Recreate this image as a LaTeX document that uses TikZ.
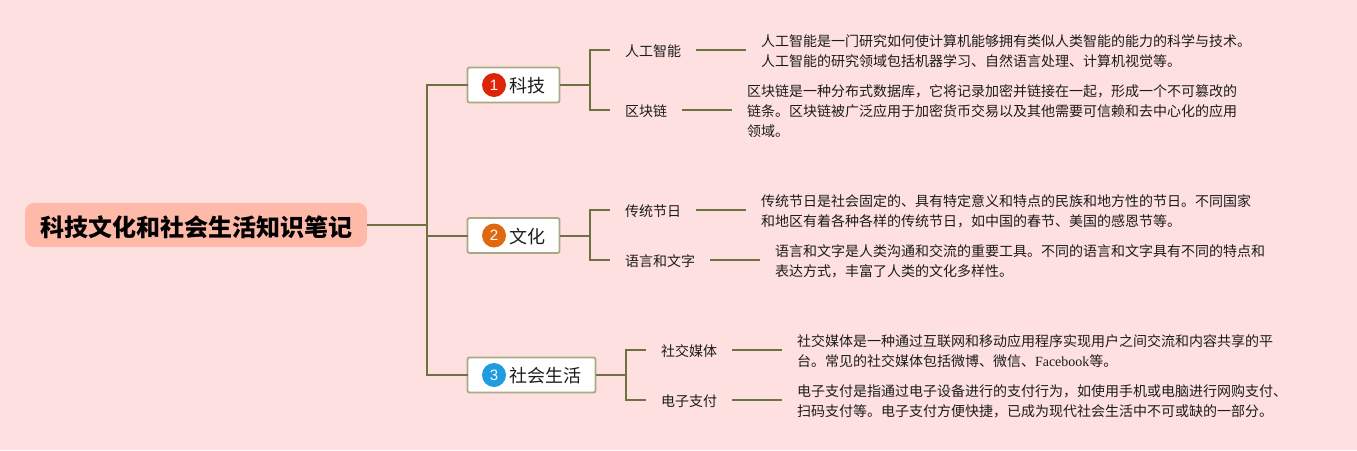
\documentclass[tikz,border=0pt]{standalone}
\usepackage{fontspec}
\setmainfont{Noto Sans CJK SC}
\newfontfamily\latinserif{Liberation Serif}
\newfontfamily\latinsans{Liberation Sans}
\definecolor{bgpink}{HTML}{FFE0E0}
\definecolor{rootfill}{HTML}{FFB9A9}
\definecolor{branchline}{HTML}{6E7240}
\definecolor{boxline}{HTML}{A9A984}
\definecolor{inkdark}{HTML}{1C1C1C}
\definecolor{badgeA}{HTML}{DE2409}
\definecolor{badgeB}{HTML}{E0680F}
\definecolor{badgeC}{HTML}{1F9BE0}
\tikzset{
  every node/.style={outer sep=0pt,text=inkdark},
  rootbox/.style={fill=rootfill,rounded corners=9pt,minimum width=342pt,minimum height=44pt,inner sep=0pt,text height=24pt,text depth=1.8pt,font=\fontsize{24}{28}\selectfont\bfseries,text=black},
  subjbox/.style={draw=boxline,line width=1.8pt,fill=white,rounded corners=2pt,minimum height=35pt,inner sep=0pt},
  subjtext/.style={anchor=west,inner sep=0pt,font=\fontsize{18}{20}\selectfont},
  badge/.style={circle,minimum size=24pt,inner sep=0pt,text=white,font=\fontsize{15}{15}\selectfont\latinsans},
  topic/.style={anchor=west,inner xsep=15pt,inner ysep=0pt,text height=14pt,text depth=1.4pt,font=\fontsize{14}{16}\selectfont},
  detail/.style={anchor=west,align=left,inner xsep=15pt,inner ysep=0pt,font=\fontsize{14}{20}\selectfont},
  link/.style={draw=branchline,line width=2pt},
}
\begin{document}
\begin{tikzpicture}[x=1pt,y=-1pt]
\useasboundingbox (0,0) rectangle (1357,450);
\fill[bgpink] (0,0) rectangle (1357,450);
% central topic
\node[rootbox] (root) at (196,225) {科技文化和社会生活知识笔记};
% subject boxes
\node[subjbox,minimum width=92pt] (s1) at (513.5,85) {};
\node[subjbox,minimum width=92pt] (s2) at (513.5,235.5) {};
\node[subjbox,minimum width=128pt] (s3) at (531.5,375) {};
\node[badge,fill=badgeA] (b1) at (494,85) {1};
\node[badge,fill=badgeB] (b2) at (494,235.5) {2};
\node[badge,fill=badgeC] (b3) at (494,375) {3};
\node[subjtext] (t1) at (509,86) {科技};
\node[subjtext] (t2) at (509,236.5) {文化};
\node[subjtext] (t3) at (509,376) {社会生活};
% topics
\node[topic] (a1) at (610,50) {人工智能};
\node[topic] (a2) at (610,110) {区块链};
\node[topic] (c1) at (610,210) {传统节日};
\node[topic] (c2) at (610,260) {语言和文字};
\node[topic] (l1) at (646,350) {社交媒体};
\node[topic] (l2) at (646,400) {电子支付};
% details
\node[detail] (da1) at (746,51.5) {人工智能是一门研究如何使计算机能够拥有类似人类智能的能力的科学与技术。\\人工智能的研究领域包括机器学习、自然语言处理、计算机视觉等。};
\node[detail] (da2) at (732,111.5) {区块链是一种分布式数据库，它将记录加密并链接在一起，形成一个不可篡改的\\链条。区块链被广泛应用于加密货币交易以及其他需要可信赖和去中心化的应用\\领域。};
\node[detail] (dc1) at (746,211.5) {传统节日是社会固定的、具有特定意义和特点的民族和地方性的节日。不同国家\\和地区有着各种各样的传统节日，如中国的春节、美国的感恩节等。};
\node[detail] (dc2) at (760,261.5) {语言和文字是人类沟通和交流的重要工具。不同的语言和文字具有不同的特点和\\表达方式，丰富了人类的文化多样性。};
\node[detail] (dl1) at (782,351.5) {社交媒体是一种通过互联网和移动应用程序实现用户之间交流和内容共享的平\\台。常见的社交媒体包括微博、微信、{\latinserif Facebook}等。};
\node[detail] (dl2) at (782,401.5) {电子支付是指通过电子设备进行的支付行为，如使用手机或电脑进行网购支付、\\扫码支付等。电子支付方便快捷，已成为现代社会生活中不可或缺的一部分。};
% junctions
\coordinate (trunk) at (427,225);
\coordinate (j1) at (590,85);
\coordinate (j2) at (590,235.5);
\coordinate (j3) at (626,375);
% connectors
\draw[link] (root.east) -- (trunk);
\draw[link] (s1.west) -| (trunk) |- (s3.west);
\draw[link] (trunk|-s2.west) -- (s2.west);
\draw[link] (s1.east) -- (j1);
\draw[link] (a1.west) -| (j1) |- (a2.west);
\draw[link] (s2.east) -- (j2);
\draw[link] (c1.west) -| (j2) |- (c2.west);
\draw[link] (s3.east) -- (j3);
\draw[link] (l1.west) -| (j3) |- (l2.west);
\draw[link] (a1.east) -- (da1.west|-a1.east);
\draw[link] (a2.east) -- (da2.west|-a2.east);
\draw[link] (c1.east) -- (dc1.west|-c1.east);
\draw[link] (c2.east) -- (dc2.west|-c2.east);
\draw[link] (l1.east) -- (dl1.west|-l1.east);
\draw[link] (l2.east) -- (dl2.west|-l2.east);
\end{tikzpicture}
\end{document}
